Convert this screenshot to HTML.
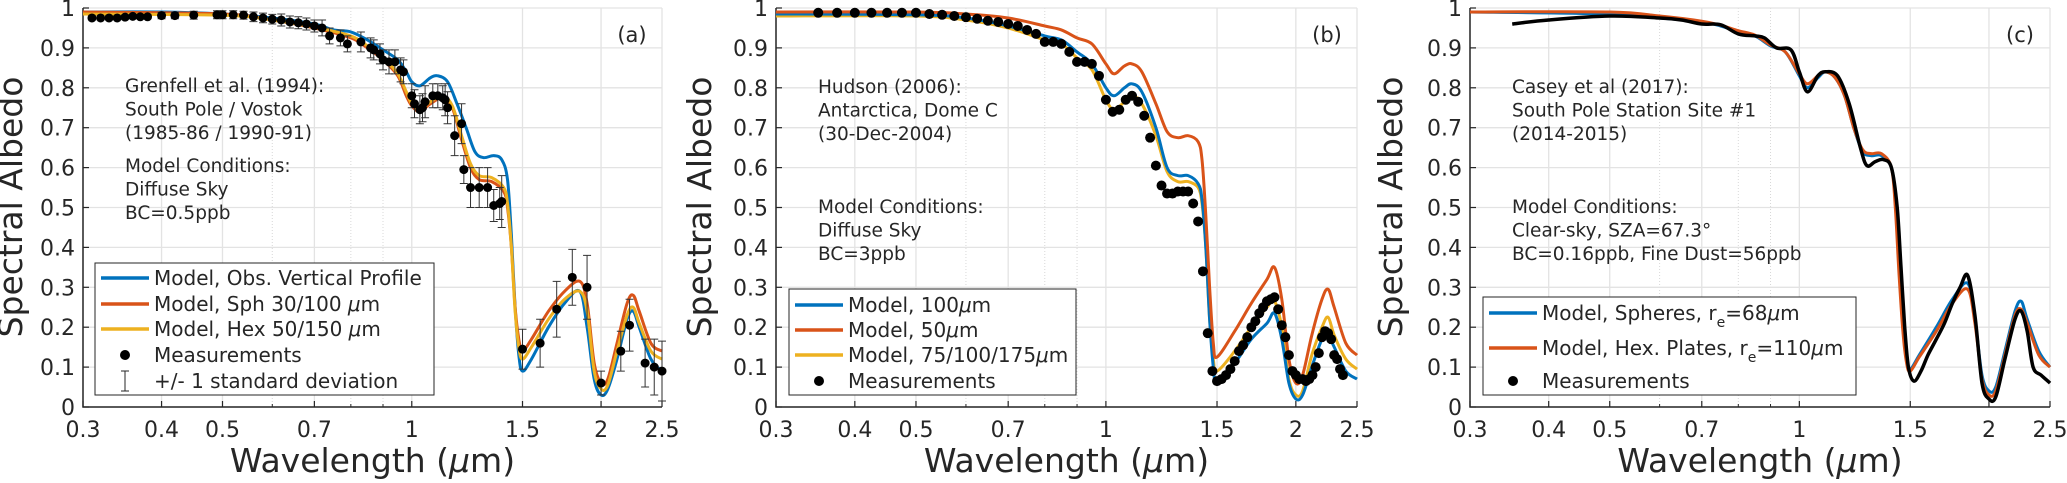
<!DOCTYPE html>
<html><head><meta charset="utf-8"><style>
html,body{margin:0;padding:0;background:#fff;}
svg{display:block;font-family:"DejaVu Sans","Liberation Sans",sans-serif;}
</style></head><body>
<svg id="fig" width="2067" height="483" viewBox="0 0 2067 483"></svg>
<script>
// ---------- data ----------
const xTicks = [0.3,0.4,0.5,0.7,1,1.5,2,2.5];
const xTickLabels = ["0.3","0.4","0.5","0.7","1","1.5","2","2.5"];
const xMinor = [0.6,0.8,0.9];
const yTicks = [0,0.1,0.2,0.3,0.4,0.5,0.6,0.7,0.8,0.9,1];
const yTickLabels = ["0","0.1","0.2","0.3","0.4","0.5","0.6","0.7","0.8","0.9","1"];

// Panel a
const aBlueX = [0.3,0.4,0.5,0.6,0.7,0.75,0.8,0.85,0.9,0.95,0.98,1.0,1.03,1.07,1.1,1.14,1.18,1.22,1.26,1.3,1.35,1.39,1.42,1.44,1.46,1.48,1.5,1.55,1.65,1.75,1.85,1.9,1.95,2.0,2.05,2.12,2.2,2.25,2.3,2.4,2.5];
const aBlueY = [0.99,0.99,0.985,0.975,0.96,0.945,0.94,0.92,0.895,0.87,0.84,0.815,0.805,0.825,0.83,0.815,0.76,0.70,0.64,0.625,0.63,0.62,0.57,0.43,0.25,0.13,0.09,0.12,0.20,0.26,0.29,0.20,0.07,0.03,0.045,0.12,0.22,0.24,0.20,0.12,0.09];
const aRedX = [0.3,0.5,0.6,0.7,0.8,0.85,0.9,0.95,0.98,1.0,1.03,1.07,1.12,1.16,1.2,1.24,1.28,1.34,1.4,1.42,1.44,1.46,1.48,1.5,1.55,1.65,1.75,1.85,1.9,1.95,2.0,2.05,2.12,2.2,2.25,2.3,2.4,2.5];
const aRedY = [0.99,0.985,0.97,0.95,0.925,0.90,0.87,0.83,0.78,0.755,0.74,0.76,0.775,0.75,0.67,0.60,0.57,0.565,0.54,0.50,0.40,0.25,0.17,0.14,0.17,0.24,0.29,0.315,0.26,0.11,0.06,0.07,0.16,0.26,0.28,0.24,0.16,0.14];
const aYelX = [0.3,0.5,0.6,0.7,0.8,0.85,0.9,0.95,0.98,1.0,1.03,1.07,1.12,1.16,1.2,1.24,1.28,1.34,1.4,1.42,1.44,1.46,1.48,1.5,1.55,1.65,1.75,1.85,1.9,1.95,2.0,2.05,2.12,2.2,2.25,2.3,2.4,2.5];
const aYelY = [0.985,0.982,0.97,0.952,0.93,0.905,0.875,0.835,0.79,0.76,0.745,0.765,0.78,0.755,0.68,0.61,0.58,0.575,0.55,0.51,0.40,0.24,0.15,0.12,0.15,0.22,0.27,0.29,0.24,0.09,0.045,0.055,0.14,0.23,0.25,0.21,0.14,0.12];
const aMeasX = [0.31,0.32,0.33,0.34,0.35,0.36,0.37,0.38,0.40,0.42,0.45,0.49,0.50,0.52,0.54,0.56,0.58,0.60,0.62,0.64,0.66,0.68,0.70,0.72,0.74,0.77,0.79,0.83,0.86,0.87,0.89,0.90,0.92,0.94,0.96,0.97,1.0,1.01,1.03,1.04,1.05,1.08,1.10,1.12,1.13,1.14,1.17,1.20,1.21,1.24,1.28,1.32,1.35,1.38,1.39,1.5,1.6,1.7,1.8,1.9,2.0,2.15,2.22,2.35,2.43,2.5];
const aMeasY = [0.975,0.975,0.975,0.975,0.977,0.979,0.978,0.978,0.981,0.981,0.982,0.983,0.983,0.983,0.982,0.978,0.975,0.972,0.970,0.965,0.963,0.960,0.955,0.950,0.930,0.925,0.910,0.915,0.900,0.895,0.885,0.870,0.865,0.865,0.845,0.840,0.780,0.760,0.745,0.750,0.765,0.780,0.780,0.775,0.770,0.750,0.680,0.710,0.595,0.550,0.550,0.550,0.505,0.510,0.515,0.145,0.160,0.245,0.325,0.300,0.060,0.140,0.205,0.110,0.100,0.090];
const aMeasErr = [0.005,0.005,0.005,0.005,0.005,0.005,0.005,0.005,0.008,0.008,0.01,0.01,0.01,0.01,0.01,0.012,0.012,0.012,0.015,0.015,0.015,0.015,0.015,0.02,0.02,0.02,0.02,0.025,0.025,0.025,0.025,0.025,0.03,0.03,0.03,0.03,0.03,0.035,0.035,0.035,0.04,0.03,0.03,0.03,0.04,0.04,0.05,0.05,0.035,0.05,0.05,0.05,0.04,0.04,0.065,0.05,0.06,0.07,0.07,0.08,0.03,0.05,0.065,0.06,0.07,0.075];

// Panel b
const bBlueX = [0.3,0.5,0.6,0.7,0.8,0.85,0.9,0.95,1.0,1.03,1.07,1.1,1.14,1.2,1.25,1.3,1.35,1.4,1.42,1.44,1.46,1.48,1.5,1.6,1.7,1.8,1.85,1.9,1.95,2.0,2.05,2.12,2.2,2.25,2.3,2.4,2.5];
const bBlueY = [0.985,0.983,0.975,0.955,0.93,0.92,0.89,0.86,0.80,0.78,0.80,0.81,0.79,0.70,0.60,0.58,0.58,0.56,0.52,0.40,0.22,0.10,0.065,0.11,0.17,0.21,0.235,0.17,0.06,0.02,0.03,0.10,0.17,0.18,0.15,0.09,0.07];
const bRedX = [0.3,0.5,0.6,0.7,0.8,0.85,0.9,0.95,1.0,1.03,1.07,1.1,1.14,1.2,1.25,1.3,1.35,1.4,1.42,1.44,1.46,1.48,1.5,1.6,1.7,1.8,1.85,1.9,1.95,2.0,2.05,2.12,2.2,2.25,2.3,2.4,2.5];
const bRedY = [0.99,0.99,0.985,0.975,0.955,0.945,0.925,0.91,0.86,0.835,0.855,0.86,0.84,0.76,0.69,0.675,0.68,0.665,0.62,0.48,0.30,0.16,0.125,0.19,0.26,0.32,0.35,0.27,0.12,0.06,0.08,0.18,0.27,0.295,0.25,0.16,0.13];
const bYelX = [0.3,0.5,0.6,0.7,0.8,0.85,0.9,0.95,1.0,1.03,1.07,1.1,1.14,1.2,1.25,1.3,1.35,1.4,1.42,1.44,1.46,1.48,1.5,1.6,1.7,1.8,1.85,1.9,1.95,2.0,2.05,2.12,2.2,2.25,2.3,2.4,2.5];
const bYelY = [0.98,0.98,0.97,0.95,0.92,0.91,0.875,0.845,0.77,0.745,0.765,0.78,0.76,0.68,0.59,0.565,0.565,0.55,0.51,0.40,0.22,0.12,0.09,0.14,0.20,0.25,0.265,0.20,0.07,0.03,0.04,0.13,0.20,0.225,0.18,0.12,0.095];
const bMeasX = [0.35,0.375,0.4,0.425,0.45,0.475,0.5,0.525,0.55,0.575,0.6,0.625,0.65,0.675,0.7,0.725,0.75,0.775,0.8,0.825,0.85,0.875,0.9,0.925,0.95,0.975,1.0,1.025,1.05,1.075,1.1,1.125,1.15,1.175,1.2,1.225,1.25,1.275,1.3,1.325,1.35,1.375,1.4,1.425,1.45,1.475,1.5,1.525,1.55,1.575,1.6,1.625,1.65,1.675,1.7,1.725,1.75,1.775,1.8,1.825,1.85,1.875,1.9,1.925,1.95,1.975,2.0,2.025,2.05,2.075,2.1,2.125,2.15,2.175,2.2,2.225,2.25,2.275,2.3,2.325,2.35,2.375];
const bMeasY = [0.988,0.988,0.988,0.988,0.988,0.988,0.988,0.985,0.983,0.98,0.977,0.973,0.968,0.965,0.96,0.955,0.945,0.935,0.915,0.915,0.91,0.89,0.865,0.865,0.86,0.83,0.77,0.74,0.745,0.77,0.78,0.765,0.73,0.675,0.605,0.555,0.535,0.535,0.54,0.54,0.54,0.51,0.465,0.34,0.185,0.09,0.065,0.07,0.08,0.095,0.115,0.14,0.155,0.175,0.20,0.215,0.235,0.25,0.265,0.27,0.275,0.245,0.205,0.175,0.13,0.09,0.08,0.07,0.07,0.065,0.07,0.08,0.10,0.135,0.175,0.19,0.185,0.17,0.13,0.12,0.095,0.08];

// Panel c
const cBlueX = [0.3,0.5,0.6,0.7,0.75,0.8,0.85,0.9,0.95,1.0,1.03,1.07,1.1,1.14,1.18,1.22,1.26,1.3,1.35,1.4,1.42,1.44,1.46,1.48,1.5,1.55,1.65,1.75,1.85,1.9,1.95,2.0,2.05,2.12,2.2,2.25,2.3,2.4,2.5];
const cBlueY = [0.99,0.985,0.975,0.965,0.955,0.94,0.93,0.905,0.89,0.83,0.80,0.825,0.84,0.825,0.78,0.70,0.64,0.63,0.63,0.60,0.52,0.35,0.20,0.12,0.095,0.13,0.20,0.27,0.31,0.22,0.08,0.04,0.05,0.14,0.24,0.265,0.22,0.14,0.10];
const cRedX = [0.3,0.5,0.6,0.7,0.75,0.8,0.85,0.9,0.95,1.0,1.03,1.07,1.1,1.14,1.18,1.22,1.26,1.3,1.35,1.4,1.42,1.44,1.46,1.48,1.5,1.55,1.65,1.75,1.85,1.9,1.95,2.0,2.05,2.12,2.2,2.25,2.3,2.4,2.5];
const cRedY = [0.99,0.99,0.98,0.967,0.957,0.943,0.932,0.907,0.89,0.835,0.81,0.83,0.84,0.825,0.78,0.70,0.645,0.635,0.635,0.60,0.50,0.33,0.19,0.11,0.09,0.125,0.19,0.26,0.295,0.21,0.07,0.03,0.04,0.13,0.23,0.245,0.21,0.13,0.10];
const cMeasX = [0.35,0.4,0.5,0.6,0.65,0.7,0.75,0.8,0.85,0.88,0.92,0.97,1.0,1.03,1.07,1.1,1.15,1.2,1.25,1.28,1.32,1.36,1.4,1.43,1.45,1.47,1.49,1.52,1.56,1.6,1.65,1.7,1.75,1.8,1.85,1.9,1.95,2.0,2.05,2.12,2.2,2.25,2.3,2.35,2.42,2.5];
const cMeasY = [0.96,0.97,0.98,0.975,0.97,0.96,0.958,0.935,0.93,0.925,0.90,0.895,0.84,0.79,0.83,0.84,0.83,0.76,0.65,0.605,0.615,0.62,0.60,0.50,0.35,0.20,0.10,0.065,0.09,0.13,0.17,0.21,0.26,0.30,0.33,0.23,0.06,0.02,0.025,0.12,0.22,0.24,0.19,0.10,0.08,0.06];

// ---------- drawing ----------
const NS = "http://www.w3.org/2000/svg";
const svg = document.getElementById('fig');
const BLUE="#0072BD", RED="#D95319", YEL="#EDB120";
const Y0=407, Y1=8;
function mk(tag, attrs, parent){const e=document.createElementNS(NS,tag);for(const k in attrs)e.setAttribute(k,attrs[k]);(parent||svg).appendChild(e);return e;}
function xScale(L,R){const a=Math.log(0.3),b=Math.log(2.5);return v=>L+(Math.log(v)-a)/(b-a)*(R-L);}
function yScale(v){return Y0-(v)*(Y0-Y1);}
function smoothPath(xs,ys,sx){
  const p=xs.map((x,i)=>[sx(x),yScale(ys[i])]);
  let d="M"+p[0][0].toFixed(1)+","+p[0][1].toFixed(1);
  for(let i=0;i<p.length-1;i++){
    const p0=p[Math.max(0,i-1)],p1=p[i],p2=p[i+1],p3=p[Math.min(p.length-1,i+2)];
    const c1=[p1[0]+(p2[0]-p0[0])/6,p1[1]+(p2[1]-p0[1])/6];
    const c2=[p2[0]-(p3[0]-p1[0])/6,p2[1]-(p3[1]-p1[1])/6];
    d+="C"+c1[0].toFixed(1)+","+c1[1].toFixed(1)+" "+c2[0].toFixed(1)+","+c2[1].toFixed(1)+" "+p2[0].toFixed(1)+","+p2[1].toFixed(1);
  }
  return d;
}
function axes(g,L,R,ylabX,tag){
  const sx=xScale(L,R);
  xMinor.forEach(v=>{const l=mk('line',{x1:sx(v),x2:sx(v),y1:Y1,y2:Y0,stroke:"#d8d8d8","stroke-width":1,"stroke-dasharray":"1,2"},g);
    
    });
  xTicks.forEach(v=>{const l=mk('line',{x1:sx(v),x2:sx(v),y1:Y1,y2:Y0,stroke:"#e3e3e3","stroke-width":1.3},g);
    
    });
  yTicks.forEach(v=>{const l=mk('line',{x1:L,x2:R,y1:yScale(v),y2:yScale(v),stroke:"#e3e3e3","stroke-width":1.3},g);
    
    });
  const ax=mk('path',{d:`M${L},${Y1}V${Y0}H${R}`,fill:"none",stroke:"#262626","stroke-width":1.5},g);
  
  
  xTicks.forEach((v,i)=>{
    mk('line',{x1:sx(v),x2:sx(v),y1:Y0,y2:Y0-6,stroke:"#262626","stroke-width":1.2},g);
    const t=mk('text',{x:sx(v),y:437,"text-anchor":"middle","font-size":22,fill:"#262626"},g);
    t.textContent=xTickLabels[i];
    
    
  });
  xMinor.forEach(v=>mk('line',{x1:sx(v),x2:sx(v),y1:Y0,y2:Y0-3,stroke:"#262626","stroke-width":1},g));
  yTicks.forEach((v,i)=>{
    mk('line',{x1:L,x2:L+6,y1:yScale(v),y2:yScale(v),stroke:"#262626","stroke-width":1.2},g);
    const t=mk('text',{x:L-8,y:yScale(v)+8,"text-anchor":"end","font-size":22,fill:"#262626"},g);
    t.textContent=yTickLabels[i];
    
    
  });
  const xl=mk('text',{x:(L+R)/2,y:472,"text-anchor":"middle","font-size":33,fill:"#262626"},g);
  xl.innerHTML='Wavelength (<tspan font-style="italic">μ</tspan>m)';
  
  
  const yl=mk('text',{x:0,y:0,transform:`translate(${ylabX},207) rotate(-90)`,"text-anchor":"middle","font-size":33,fill:"#262626"},g);
  yl.textContent='Spectral Albedo';
  
  
  const pl=mk('text',{x:R-30,y:42,"text-anchor":"middle","font-size":21,fill:"#262626"},g);
  pl.textContent=tag;
  
  
  return sx;
}
function line(g,xs,ys,sx,color,name,w){
  const p=mk('path',{d:smoothPath(xs,ys,sx),fill:"none",stroke:color,"stroke-width":w||3,"stroke-linejoin":"round"},g);
  
  
}
function dots(g,xs,ys,sx,name,r){
  xs.forEach((x,i)=>{const c=mk('circle',{cx:sx(x),cy:yScale(ys[i]),r:r||4,fill:"#000"},g);
    
    });
}
function textBlock(g,x,y,lines,name){
  const t=mk('text',{x:x,y:y,"font-size":18.5,fill:"#262626"},g);
  lines.forEach((s,i)=>{const ts=mk('tspan',{x:x,dy:i?23.5:0},t);ts.textContent=s;});
  
  
}
function legend(g,x,y,w,h,entries,name){
  const lg=mk('g',{},g);
  
  
  mk('rect',{x:x,y:y,width:w,height:h,fill:"#fff",stroke:"#262626","stroke-width":1},lg);
  entries.forEach(e=>{
    const eg=mk('g',{},lg);
    
    
    if(e.type==='line') mk('line',{x1:x+6,x2:x+54,y1:e.y,y2:e.y,stroke:e.color,"stroke-width":3.5},eg);
    else if(e.type==='dot') mk('circle',{cx:x+30,cy:e.y,r:5,fill:"#000"},eg);
    else {mk('path',{d:`M${x+30},${e.y-10}V${e.y+10}M${x+26},${e.y-10}H${x+34}M${x+26},${e.y+10}H${x+34}`,stroke:"#262626","stroke-width":1},eg);}
    const t=mk('text',{x:x+59,y:e.y+7,"font-size":20,fill:"#262626"},eg);
    t.innerHTML=e.label;
  });
}
const mu='<tspan font-style="italic">μ</tspan>m';

// Panel a
{
  const g=mk('g',{});
  
  
  const sx=axes(g,83,662,22,'(a)');
  textBlock(g,125,92,['Grenfell et al. (1994):','South Pole / Vostok','(1985-86 / 1990-91)'],'site-annotation');
  textBlock(g,125,172,['Model Conditions:','Diffuse Sky','BC=0.5ppb'],'model-conditions-annotation');
  line(g,aBlueX,aBlueY,sx,BLUE,'series-obs-vertical-profile');
  line(g,aRedX,aRedY,sx,RED,'series-sph-30-100');
  line(g,aYelX,aYelY,sx,YEL,'series-hex-50-150');
  aMeasX.forEach((x,i)=>{
    const X=sx(x),yt=yScale(aMeasY[i]+aMeasErr[i]),yb=yScale(aMeasY[i]-aMeasErr[i]);
    const e=mk('path',{d:`M${X},${yt}V${yb}M${X-4},${yt}H${X+4}M${X-4},${yb}H${X+4}`,stroke:"#333","stroke-width":1},g);
    
    
  });
  dots(g,aMeasX,aMeasY,sx,'measurement-point',4.5);
  legend(g,95,263,339,132,[
    {type:'line',color:BLUE,y:278,label:'Model, Obs. Vertical Profile'},
    {type:'line',color:RED,y:304,label:'Model, Sph 30/100 '+mu},
    {type:'line',color:YEL,y:329,label:'Model, Hex 50/150 '+mu},
    {type:'dot',y:355,label:'Measurements'},
    {type:'err',y:381,label:'+/- 1 standard deviation'}],'legend-a');
}
// Panel b
{
  const g=mk('g',{});
  
  
  const sx=axes(g,776,1357,711,'(b)');
  textBlock(g,818,93,['Hudson (2006):','Antarctica, Dome C','(30-Dec-2004)'],'site-annotation');
  textBlock(g,818,213,['Model Conditions:','Diffuse Sky','BC=3ppb'],'model-conditions-annotation');
  line(g,bYelX,bYelY,sx,YEL,'series-75-100-175um');
  line(g,bBlueX,bBlueY,sx,BLUE,'series-100um');
  line(g,bRedX,bRedY,sx,RED,'series-50um');
  dots(g,bMeasX,bMeasY,sx,'measurement-point',5);
  legend(g,789,289,287,106,[
    {type:'line',color:BLUE,y:305,label:'Model, 100'+mu},
    {type:'line',color:RED,y:330,label:'Model, 50'+mu},
    {type:'line',color:YEL,y:355,label:'Model, 75/100/175'+mu},
    {type:'dot',y:381,label:'Measurements'}],'legend-b');
}
// Panel c
{
  const g=mk('g',{});
  
  
  const sx=axes(g,1470,2050,1402,'(c)');
  textBlock(g,1512,93,['Casey et al (2017):','South Pole Station Site #1','(2014-2015)'],'site-annotation');
  textBlock(g,1512,213,['Model Conditions:','Clear-sky, SZA=67.3°','BC=0.16ppb, Fine Dust=56ppb'],'model-conditions-annotation');
  line(g,cBlueX,cBlueY,sx,BLUE,'series-spheres-68um');
  line(g,cRedX,cRedY,sx,RED,'series-hex-plates-110um');
  line(g,cMeasX,cMeasY,sx,"#000",'measurements-line',3.5);
  legend(g,1483,297,373,98,[
    {type:'line',color:BLUE,y:313,label:'Model, Spheres, r<tspan font-size="14" dy="7">e</tspan><tspan dy="-7">=68</tspan>'+mu},
    {type:'line',color:RED,y:348,label:'Model, Hex. Plates, r<tspan font-size="14" dy="7">e</tspan><tspan dy="-7">=110</tspan>'+mu},
    {type:'dot',y:381,label:'Measurements'}],'legend-c');
}
</script>
</body></html>
